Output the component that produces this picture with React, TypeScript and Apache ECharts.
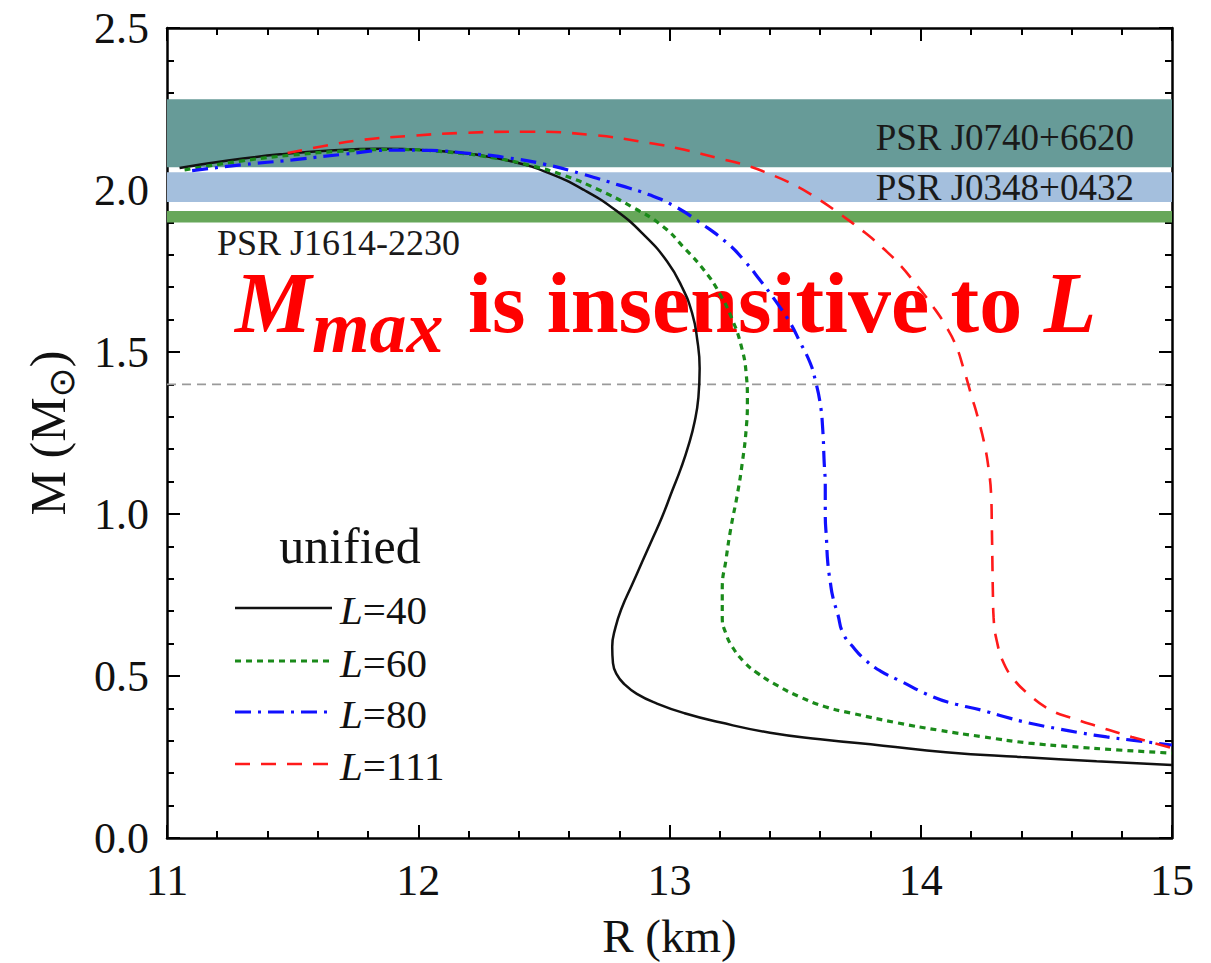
import React, { useEffect, useRef } from "react";
import * as echarts from "echarts";

const SERIF = '"Liberation Serif", "Times New Roman", "DejaVu Serif", serif';

// Mass–radius curves for the unified EOS at several slope parameters L
const seriesNames = ["L=40", "L=60", "L=80", "L=111"];

const r40 = [11.05, 11.25, 11.45, 11.65, 11.85, 12.05, 12.22, 12.38, 12.52, 12.66, 12.79, 12.9, 12.99, 13.05, 13.09, 13.11, 13.12, 13.115, 13.1, 13.075, 13.045, 13.01, 12.97, 12.93, 12.89, 12.85, 12.81, 12.785, 12.772, 12.775, 12.79, 12.82, 12.87, 12.95, 13.06, 13.2, 13.4, 13.6, 13.85, 14.1, 14.4, 14.7, 15.0];
const m40 = [2.068, 2.092, 2.11, 2.122, 2.127, 2.122, 2.11, 2.087, 2.052, 2.0, 1.935, 1.86, 1.78, 1.7, 1.62, 1.54, 1.45, 1.36, 1.285, 1.21, 1.14, 1.07, 0.99, 0.92, 0.85, 0.78, 0.71, 0.65, 0.59, 0.54, 0.505, 0.475, 0.445, 0.415, 0.385, 0.357, 0.325, 0.305, 0.285, 0.265, 0.25, 0.237, 0.225];

const r60 = [11.07, 11.3, 11.5, 11.7, 11.9, 12.1, 12.3, 12.45, 12.58, 12.72, 12.85, 12.97, 13.06, 13.14, 13.2, 13.25, 13.285, 13.305, 13.31, 13.305, 13.29, 13.27, 13.245, 13.225, 13.21, 13.21, 13.225, 13.25, 13.295, 13.35, 13.43, 13.52, 13.62, 13.72, 13.91, 14.07, 14.25, 14.43, 14.6, 14.78, 15.0];
const m60 = [2.062, 2.09, 2.108, 2.12, 2.125, 2.118, 2.099, 2.075, 2.045, 2.0, 1.948, 1.89, 1.82, 1.75, 1.68, 1.6, 1.52, 1.435, 1.35, 1.26, 1.16, 1.06, 0.96, 0.86, 0.77, 0.68, 0.63, 0.59, 0.545, 0.509, 0.47, 0.435, 0.405, 0.386, 0.355, 0.333, 0.312, 0.293, 0.282, 0.272, 0.262];

const r80 = [11.1, 11.3, 11.5, 11.7, 11.9, 12.05, 12.2, 12.35, 12.5, 12.65, 12.8, 12.92, 13.02, 13.12, 13.23, 13.3, 13.36, 13.42, 13.48, 13.52, 13.56, 13.58, 13.6, 13.61, 13.615, 13.62, 13.62, 13.625, 13.63, 13.64, 13.65, 13.67, 13.69, 13.73, 13.78, 13.84, 13.91, 14.05, 14.14, 14.24, 14.33, 14.43, 14.54, 14.64, 14.74, 14.84, 15.0];
const m80 = [2.06, 2.078, 2.093, 2.11, 2.123, 2.122, 2.113, 2.1, 2.08, 2.05, 2.015, 1.985, 1.95, 1.9, 1.836, 1.78, 1.722, 1.66, 1.59, 1.53, 1.466, 1.414, 1.34, 1.26, 1.17, 1.08, 1.0, 0.92, 0.85, 0.79, 0.744, 0.69, 0.633, 0.59, 0.549, 0.515, 0.488, 0.435, 0.413, 0.395, 0.375, 0.355, 0.338, 0.324, 0.312, 0.302, 0.287];

const r111 = [11.48, 11.62, 11.77, 11.97, 12.17, 12.43, 12.69, 12.92, 13.06, 13.19, 13.3, 13.39, 13.49, 13.58, 13.68, 13.78, 13.85, 13.91, 13.98, 14.05, 14.1, 14.14, 14.17, 14.2, 14.23, 14.255, 14.27, 14.28, 14.283, 14.285, 14.287, 14.29, 14.305, 14.33, 14.37, 14.42, 14.51, 14.61, 14.71, 14.84, 15.0];
const m111 = [2.114, 2.135, 2.154, 2.167, 2.176, 2.18, 2.17, 2.145, 2.124, 2.099, 2.077, 2.052, 2.018, 1.978, 1.925, 1.867, 1.82, 1.775, 1.71, 1.639, 1.58, 1.52, 1.45, 1.37, 1.29, 1.21, 1.14, 1.06, 0.96, 0.86, 0.76, 0.68, 0.6, 0.54, 0.49, 0.45, 0.398, 0.368, 0.343, 0.312, 0.278];

const radii = [r40, r60, r80, r111];
const masses = [m40, m60, m80, m111];

// Pulsar mass constraints (M_sun)
const bandNames = ["PSR J0740+6620", "PSR J0348+0432", "PSR J1614-2230"];
const bandLow = [2.07, 1.963, 1.9];
const bandHigh = [2.28, 2.055, 1.935];

// Canonical 1.4 M_sun reference line
const canonicalMass = 1.4;

const lineColors = ["#111111", "#1a8a1a", "#1010ff", "#ff1a1a"];
const lineDashes: (string | number[])[] = ["solid", [6, 5], [16, 7, 3, 7], [15, 11]];
const lineWidths = [2.5, 3.2, 3.2, 2.6];
const bandColors = ["#679b98", "#a4bfdd", "#67a75a"];

export default function App() {
  const ref = useRef<HTMLDivElement>(null);

  useEffect(() => {
    if (!ref.current) return;
    const chart = echarts.init(ref.current, undefined, { renderer: "svg" });

    const axisCommon = {
      axisLine: { show: true, onZero: false, lineStyle: { color: "#000", width: 2.5 } },
      axisTick: { show: true, inside: true, length: 13, lineStyle: { color: "#000", width: 2 } },
      minorTick: { show: true, splitNumber: 5, length: 7, lineStyle: { color: "#000", width: 2 } },
      splitLine: { show: false },
    };

    const bandSeries = {
      type: "line",
      name: "bands",
      data: [],
      z: 1,
      silent: true,
      markArea: {
        silent: true,
        label: { fontFamily: SERIF, fontSize: 37, color: "#1a1a1a" },
        data: bandNames.map((n, i) => [
          {
            yAxis: bandLow[i],
            itemStyle: { color: bandColors[i], opacity: 1 },
            label: {
              show: true,
              formatter: n,
              color: "#1a1a1a",
              fontFamily: SERIF,
              fontSize: i === 2 ? 36 : 37,
              lineHeight: 30,
              position: i === 2 ? "insideBottomLeft" : "insideRight",
              distance: i === 2 ? 0 : 38,
              offset: i === 0 ? [0, 4] : i === 1 ? [0, 0] : [50, 36],
            },
          },
          { yAxis: bandHigh[i] },
        ]),
      },
    };

    const refLine = {
      type: "line",
      name: "canonical",
      data: [
        [11, canonicalMass],
        [15, canonicalMass],
      ],
      symbol: "none",
      silent: true,
      z: 2,
      lineStyle: { color: "#9a9a9a", width: 1.6, type: [9, 6] },
    };

    const curves = seriesNames.map((n, i) => ({
      type: "line",
      name: n,
      data: radii[i].map((r, k) => [r, masses[i][k]]),
      symbol: "none",
      smooth: 0.5,
      clip: true,
      z: 3 + i,
      lineStyle: { color: lineColors[i], width: lineWidths[i], type: lineDashes[i] },
    }));

    const legendY = [608, 661, 712, 764];
    const legendGraphics: any[] = [
      {
        type: "text",
        x: 350,
        y: 546,
        style: {
          text: "unified",
          font: `50px ${SERIF}`,
          fill: "#111",
          align: "center",
          verticalAlign: "middle",
          textAlign: "center",
          textVerticalAlign: "middle",
        },
      },
    ];
    seriesNames.forEach((n, i) => {
      legendGraphics.push({
        type: "line",
        shape: { x1: 235, y1: legendY[i], x2: 332, y2: legendY[i] },
        style: { stroke: lineColors[i], lineWidth: lineWidths[i], lineDash: lineDashes[i] === "solid" ? null : lineDashes[i] },
      });
      legendGraphics.push({
        type: "text",
        x: 340,
        y: legendY[i] + 2,
        style: {
          text: `{i|L}{n|${n.slice(1)}}`,
          rich: {
            i: { fontFamily: SERIF, fontStyle: "italic", fontSize: 41, fill: "#111", color: "#111" },
            n: { fontFamily: SERIF, fontSize: 41, fill: "#111", color: "#111" },
          },
          align: "left",
          verticalAlign: "middle",
          textAlign: "left",
          textVerticalAlign: "middle",
        },
      });
    });

    const titleGraphics = [
      {
        type: "text",
        x: 235,
        y: 303,
        style: {
          text: "M",
          font: `italic bold 86px ${SERIF}`,
          lineHeight: 64,
          fill: "#ff0000",
          align: "left",
          verticalAlign: "middle",
          textAlign: "left",
          textVerticalAlign: "middle",
        },
      },
      {
        type: "text",
        x: 312,
        y: 327,
        style: {
          text: "max",
          font: `italic bold 74px ${SERIF}`,
          lineHeight: 56,
          fill: "#ff0000",
          align: "left",
          verticalAlign: "middle",
          textAlign: "left",
          textVerticalAlign: "middle",
        },
      },
      {
        type: "text",
        x: 468,
        y: 303,
        style: {
          text: "{b|is insensitive to }{i|L}",
          rich: {
            b: { fontFamily: SERIF, fontWeight: "bold", fontSize: 86, lineHeight: 64, fill: "#ff0000", color: "#ff0000" },
            i: { fontFamily: SERIF, fontWeight: "bold", fontStyle: "italic", fontSize: 86, lineHeight: 64, fill: "#ff0000", color: "#ff0000" },
          },
          align: "left",
          verticalAlign: "middle",
          textAlign: "left",
          textVerticalAlign: "middle",
        },
      },
    ];

    chart.setOption({
      animation: false,
      backgroundColor: "#ffffff",
      textStyle: { fontFamily: SERIF },
      grid: { left: 167, right: 39, top: 28, bottom: 125, containLabel: false, outerBoundsMode: "none" },
      xAxis: [
        {
          type: "value",
          min: 11,
          max: 15,
          interval: 1,
          position: "bottom",
          name: "R (km)",
          nameLocation: "middle",
          nameGap: 74,
          nameTextStyle: { fontFamily: SERIF, fontSize: 47, color: "#111" },
          axisLabel: { fontFamily: SERIF, fontSize: 44, color: "#111", margin: 20 },
          ...axisCommon,
        },
        {
          type: "value",
          min: 11,
          max: 15,
          interval: 1,
          position: "top",
          axisLabel: { show: false },
          ...axisCommon,
        },
      ],
      yAxis: [
        {
          type: "value",
          min: 0,
          max: 2.5,
          interval: 0.5,
          position: "left",
          name: "{a|M (M}{s|⊙}{a|)}",
          nameLocation: "middle",
          nameGap: 88,
          nameRotate: 90,
          nameTextStyle: {
            rich: {
              a: { fontFamily: SERIF, fontSize: 50, color: "#111", lineHeight: 62, verticalAlign: "middle" },
              s: { fontFamily: "DejaVu Sans", fontSize: 36, color: "#111", lineHeight: 62, verticalAlign: "bottom" },
            },
          },
          axisLabel: {
            fontFamily: SERIF,
            fontSize: 44,
            color: "#111",
            margin: 18,
            formatter: (v: number) => v.toFixed(1),
          },
          ...axisCommon,
        },
        {
          type: "value",
          min: 0,
          max: 2.5,
          interval: 0.5,
          position: "right",
          axisLabel: { show: false },
          ...axisCommon,
        },
      ],
      series: [bandSeries, refLine, ...curves],
      graphic: [...legendGraphics, ...titleGraphics],
    });

    return () => chart.dispose();
  }, []);

  return <div ref={ref} style={{ width: 1211, height: 963, marginLeft: -8, marginTop: -8 }} />;
}
